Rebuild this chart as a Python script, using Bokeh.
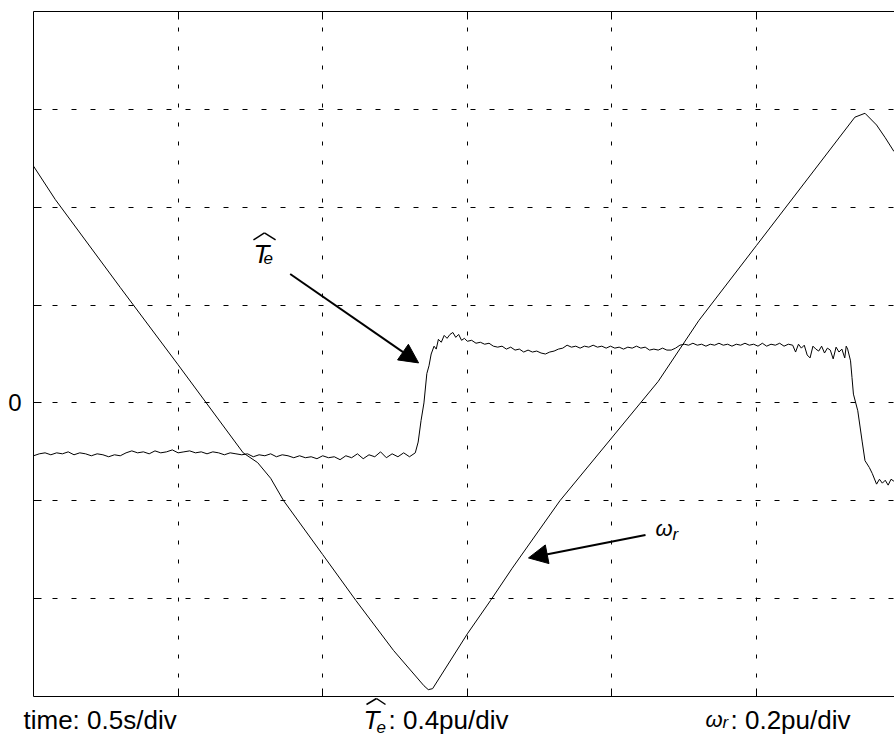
from bokeh.plotting import figure
from bokeh.layouts import column
from bokeh.models import (Range1d, LinearAxis, FixedTicker, Label, Arrow,
                          NormalHead, CustomJSTickFormatter)
from bokeh.embed import file_html
from bokeh.resources import INLINE

# ---- data (time and signals in oscilloscope divisions) ----
x_grid_ticks = [1, 2, 3, 4, 5]
y_grid_ticks = [-2, -1, 0, 1, 2, 3]
y_tick_label = "0"

# estimated torque trace (T_e hat), divisions
te_t = [0.00, 0.04, 0.08, 0.12, 0.16, 0.20, 0.24, 0.28, 0.32, 0.36, 0.40, 0.44,
        0.48, 0.52, 0.56, 0.60, 0.64, 0.68, 0.72, 0.76, 0.80, 0.84, 0.88, 0.92,
        0.96, 1.00, 1.04, 1.08, 1.12, 1.16, 1.20, 1.24, 1.28, 1.32, 1.36, 1.40,
        1.44, 1.48, 1.52, 1.56, 1.60, 1.64, 1.68, 1.72, 1.76, 1.80, 1.84, 1.88,
        1.92, 1.96, 2.00, 2.04, 2.08, 2.12, 2.16, 2.20, 2.24, 2.28, 2.32, 2.36,
        2.40, 2.44, 2.48, 2.52, 2.56, 2.60,
        2.64, 2.66, 2.68, 2.70, 2.72, 2.735, 2.75, 2.77, 2.785, 2.80, 2.82, 2.84,
        2.86, 2.88, 2.90, 2.92, 2.94, 2.96, 2.98, 3.00, 3.03, 3.06, 3.09, 3.12,
        3.15, 3.18, 3.21, 3.24, 3.27, 3.30, 3.33, 3.36, 3.39, 3.42, 3.45, 3.48,
        3.51, 3.54, 3.57, 3.60, 3.63, 3.66, 3.69, 3.72, 3.75, 3.78, 3.81, 3.84,
        3.87, 3.90, 3.93, 3.96, 3.99, 4.02, 4.05, 4.08, 4.11, 4.14, 4.17, 4.20,
        4.23, 4.26, 4.29, 4.32, 4.35, 4.38, 4.41, 4.44, 4.47, 4.50, 4.53, 4.56,
        4.59, 4.62, 4.65, 4.68, 4.71, 4.74, 4.77, 4.80, 4.83, 4.86, 4.89, 4.92,
        4.95, 4.98, 5.01, 5.04, 5.07, 5.10, 5.13, 5.16, 5.19, 5.22, 5.25, 5.27,
        5.29, 5.31, 5.33, 5.35, 5.37, 5.39, 5.41, 5.43, 5.45, 5.47, 5.49, 5.51,
        5.53, 5.55, 5.57, 5.59, 5.61, 5.62, 5.63, 5.65, 5.66, 5.67, 5.70, 5.73,
        5.75, 5.78, 5.80, 5.83, 5.85, 5.87, 5.89, 5.91, 5.93, 5.95]
te_y = [-0.54, -0.52, -0.51, -0.53, -0.51, -0.52, -0.50, -0.53, -0.51, -0.52, -0.54, -0.52,
        -0.53, -0.55, -0.53, -0.54, -0.51, -0.49, -0.51, -0.50, -0.52, -0.49, -0.51, -0.50,
        -0.48, -0.51, -0.50, -0.49, -0.51, -0.50, -0.52, -0.50, -0.51, -0.53, -0.51, -0.52,
        -0.53, -0.52, -0.55, -0.53, -0.54, -0.52, -0.55, -0.53, -0.54, -0.56, -0.54, -0.56,
        -0.55, -0.57, -0.54, -0.56, -0.55, -0.58, -0.54, -0.56, -0.52, -0.57, -0.53, -0.55,
        -0.50, -0.56, -0.52, -0.55, -0.51, -0.55,
        -0.51, -0.40, -0.18, 0.00, 0.30, 0.38, 0.50, 0.58, 0.55, 0.65, 0.62, 0.69,
        0.66, 0.70, 0.72, 0.67, 0.70, 0.64, 0.66, 0.63, 0.64, 0.61, 0.62, 0.60,
        0.61, 0.58, 0.57, 0.58, 0.55, 0.57, 0.54, 0.55, 0.52, 0.54, 0.52, 0.53,
        0.51, 0.50, 0.52, 0.53, 0.55, 0.56, 0.59, 0.57, 0.58, 0.56, 0.58, 0.57,
        0.59, 0.57, 0.58, 0.56, 0.58, 0.56, 0.57, 0.55, 0.57, 0.56, 0.58, 0.56,
        0.57, 0.54, 0.55, 0.54, 0.56, 0.54, 0.54, 0.56, 0.59, 0.60, 0.59, 0.61,
        0.59, 0.60, 0.58, 0.60, 0.59, 0.61, 0.59, 0.60, 0.58, 0.60, 0.59, 0.61,
        0.59, 0.60, 0.58, 0.61, 0.58, 0.60, 0.59, 0.61, 0.58, 0.60, 0.59, 0.52,
        0.60, 0.56, 0.59, 0.49, 0.46, 0.58, 0.55, 0.53, 0.58, 0.51, 0.56, 0.54,
        0.45, 0.57, 0.52, 0.55, 0.46, 0.58, 0.55, 0.43, 0.26, 0.09, -0.08, -0.39,
        -0.59, -0.66, -0.72, -0.83, -0.78, -0.82, -0.79, -0.84, -0.78, -0.80]

# rotor speed trace (omega_r), divisions
wr_t = [0.00, 0.15, 0.60, 1.00, 1.45, 1.55, 1.64, 1.73, 2.00, 2.23, 2.49, 2.70,
        2.73, 2.76, 3.00, 3.16, 3.31, 3.64, 4.32, 4.60, 5.00, 5.40, 5.68, 5.75,
        5.83, 5.89, 5.95]
wr_y = [2.42, 2.08, 1.18, 0.39, -0.51, -0.61, -0.77, -1.00, -1.55, -2.02, -2.53, -2.89,
        -2.93, -2.92, -2.36, -2.02, -1.69, -1.00, 0.22, 0.84, 1.61, 2.38, 2.92, 2.96,
        2.84, 2.71, 2.57]

FONT = "Arial"

p = figure(width=894, height=697, x_range=Range1d(0, 5.954), y_range=Range1d(-3, 4),
           output_backend="svg", toolbar_location=None, frame_align=False,
           min_border_left=33, min_border_right=0, min_border_top=11, min_border_bottom=1,
           background_fill_color="white", border_fill_color="white")
p.outline_line_color = None

# grids
p.xgrid.ticker = FixedTicker(ticks=x_grid_ticks)
p.ygrid.ticker = FixedTicker(ticks=y_grid_ticks)
p.xgrid.grid_line_color = "black"
p.ygrid.grid_line_color = "black"
p.xgrid.grid_line_dash = "4 15"
p.ygrid.grid_line_dash = "5 14"
p.xgrid.grid_line_width = 1
p.ygrid.grid_line_width = 1

blank = CustomJSTickFormatter(code="return '';")

# bottom axis
for ax in p.xaxis:
    ax.ticker = FixedTicker(ticks=x_grid_ticks)
    ax.formatter = blank
    ax.major_tick_in = 8
    ax.major_tick_out = 0
    ax.minor_tick_in = 0
    ax.minor_tick_out = 0
    ax.major_label_text_font_size = "0px"
    ax.major_label_standoff = 0
    ax.axis_line_color = "black"
    ax.major_tick_line_color = "black"

# top axis
top = LinearAxis(ticker=FixedTicker(ticks=x_grid_ticks), formatter=blank,
                 major_tick_in=8, major_tick_out=0, minor_tick_in=0, minor_tick_out=0,
                 major_label_text_font_size="0px", major_label_standoff=0,
                 axis_line_color="black", major_tick_line_color="black")
p.add_layout(top, "above")

# left axis
for ax in p.yaxis:
    ax.ticker = FixedTicker(ticks=y_grid_ticks)
    ax.formatter = CustomJSTickFormatter(code="return tick == 0 ? '%s' : '';" % y_tick_label)
    ax.major_tick_in = 8
    ax.major_tick_out = 0
    ax.minor_tick_in = 0
    ax.minor_tick_out = 0
    ax.major_label_text_font = FONT
    ax.major_label_text_font_size = "24px"
    ax.major_label_text_color = "black"
    ax.major_label_standoff = 12
    ax.axis_line_color = "black"
    ax.major_tick_line_color = "black"

# traces
p.line(te_t, te_y, line_color="black", line_width=1)
p.line(wr_t, wr_y, line_color="black", line_width=1)

# annotation arrows
p.add_layout(Arrow(end=NormalHead(size=19, fill_color="black", line_color="black"),
                   x_start=1.775, y_start=1.318, x_end=2.663, y_end=0.409,
                   line_width=2, line_color="black"))
p.add_layout(Arrow(end=NormalHead(size=19, fill_color="black", line_color="black"),
                   x_start=4.232, y_start=-1.349, x_end=3.423, y_end=-1.584,
                   line_width=2, line_color="black"))


def lab(fig, x, y, text, size="26px", style="normal"):
    fig.add_layout(Label(x=x, y=y, text=text, text_font=FONT, text_font_size=size,
                         text_font_style=style, text_color="black",
                         text_baseline="alphabetic", text_align="left"))


def hat(fig, x0, xm, x1, yb, yt):
    fig.add_layout(Arrow(end=None, x_start=x0, y_start=yb, x_end=xm, y_end=yt,
                         line_width=1.5, line_color="black"))
    fig.add_layout(Arrow(end=None, x_start=xm, y_start=yt, x_end=x1, y_end=yb,
                         line_width=1.5, line_color="black"))


# in-plot labels
lab(p, 1.521, 1.523, "T", style="italic")
lab(p, 1.591, 1.480, "e", size="17px", style="italic")
hat(p, 1.521, 1.597, 1.674, 1.666, 1.737)
lab(p, 4.301, -1.288, "ω", size="22px", style="italic")
lab(p, 4.419, -1.340, "r", size="17px", style="italic")

# caption strip below the plot (coordinates in page pixels)
cap = figure(width=894, height=45, x_range=Range1d(0, 894), y_range=Range1d(742, 697),
             output_backend="svg", toolbar_location=None, frame_align=False,
             x_axis_location=None, y_axis_location=None,
             min_border_left=0, min_border_right=0, min_border_top=0, min_border_bottom=0,
             background_fill_color="white", border_fill_color="white")
cap.outline_line_color = None
cap.grid.visible = False

lab(cap, 23, 719, "time: 0.5s/div")
lab(cap, 363, 719, "T", style="italic")
lab(cap, 376, 726, "e", size="17px", style="italic")
hat(cap, 366, 376, 385, 704, 698)
lab(cap, 388, 719, ": 0.4pu/div")
lab(cap, 705, 719, "ω", size="22px", style="italic")
lab(cap, 722, 722, "r", size="17px", style="italic")
lab(cap, 730, 719, ": 0.2pu/div")

layout = column(p, cap, spacing=0)
open("out.html", "w").write(file_html(layout, INLINE))
